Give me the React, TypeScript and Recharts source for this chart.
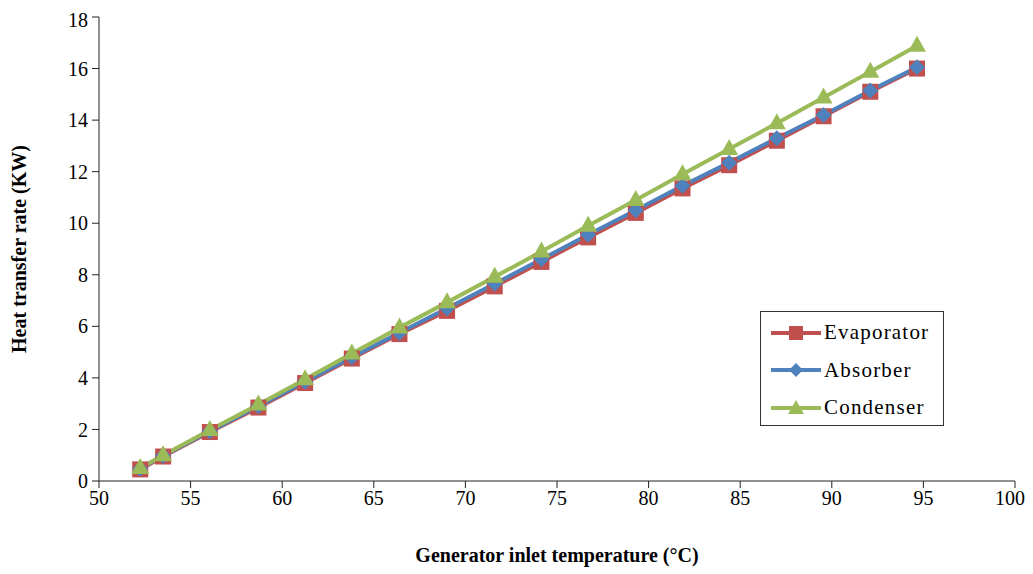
import {
  LineChart,
  Line,
  XAxis,
  YAxis,
} from 'recharts';

const temps = [52.25, 53.5, 56.05, 58.7, 61.25, 63.8, 66.4, 69.0, 71.6, 74.15, 76.7, 79.3, 81.85, 84.4, 87.0, 89.55, 92.1, 94.65];
const evaporator = [0.45, 0.95, 1.9, 2.85, 3.8, 4.75, 5.7, 6.6, 7.55, 8.5, 9.45, 10.4, 11.35, 12.25, 13.2, 14.15, 15.1, 16.0];
const absorber = [0.48, 0.98, 1.93, 2.9, 3.85, 4.8, 5.75, 6.7, 7.65, 8.6, 9.55, 10.5, 11.45, 12.35, 13.3, 14.2, 15.15, 16.05];
const condenser = [0.5, 1.0, 1.98, 2.97, 3.95, 4.95, 5.95, 6.93, 7.92, 8.9, 9.9, 10.9, 11.9, 12.88, 13.88, 14.88, 15.88, 16.88];
const xTicks = [50, 55, 60, 65, 70, 75, 80, 85, 90, 95, 100];
const yTicks = [0, 2, 4, 6, 8, 10, 12, 14, 16, 18];

const data = temps.map((t, i) => ({
  t,
  evaporator: evaporator[i],
  absorber: absorber[i],
  condenser: condenser[i],
}));

const RED = '#C0504D';
const BLUE = '#4F81BD';
const GREEN = '#9BBB59';
const FONT = "'Times New Roman', 'Liberation Serif', serif";

const Square = (props: any) => {
  const { cx, cy } = props;
  if (cx == null || cy == null) return null;
  return <rect x={cx - 8} y={cy - 8} width={16} height={16} fill={RED} />;
};

const Diamond = (props: any) => {
  const { cx, cy } = props;
  if (cx == null || cy == null) return null;
  return (
    <polygon
      points={`${cx},${cy - 8} ${cx + 8},${cy} ${cx},${cy + 8} ${cx - 8},${cy}`}
      fill={BLUE}
    />
  );
};

const Triangle = (props: any) => {
  const { cx, cy } = props;
  if (cx == null || cy == null) return null;
  return (
    <polygon
      points={`${cx},${cy - 10} ${cx + 9},${cy + 6} ${cx - 9},${cy + 6}`}
      fill={GREEN}
    />
  );
};

const legendItems = [
  { name: 'Evaporator', color: RED, shape: 'square' },
  { name: 'Absorber', color: BLUE, shape: 'diamond' },
  { name: 'Condenser', color: GREEN, shape: 'triangle' },
];

const LegendBox = () => (
  <div
    style={{
      position: 'absolute',
      left: 752,
      top: 303,
      border: '1px solid #333',
      background: '#fff',
      width: 184,
      height: 115,
      boxSizing: 'border-box',
      padding: '2px 0 0 9px',
      fontFamily: FONT,
      fontSize: 21,
      letterSpacing: 1.2,
      color: '#000',
    }}
  >
    {legendItems.map((it) => (
      <div key={it.name} style={{ display: 'flex', alignItems: 'center', height: 37.5, whiteSpace: 'nowrap' }}>
        <svg width={52} height={20} style={{ marginRight: 2, flexShrink: 0 }}>
          <line x1={1} y1={10} x2={51} y2={10} stroke={it.color} strokeWidth={4} />
          {it.shape === 'square' && <rect x={19} y={3} width={14} height={14} fill={it.color} />}
          {it.shape === 'diamond' && <polygon points="26,3 33,10 26,17 19,10" fill={it.color} />}
          {it.shape === 'triangle' && <polygon points="26,2 34,16 18,16" fill={it.color} />}
        </svg>
        <span>{it.name}</span>
      </div>
    ))}
  </div>
);

export default function App() {
  return (
    <div style={{ position: 'relative', width: 1017, height: 560, background: '#fff', fontFamily: FONT }}>
      <LineChart
        width={1017}
        height={560}
        data={data}
        margin={{ top: 9, right: 10, left: 31, bottom: 0 }}
        style={{ fontFamily: FONT }}
      >
        <XAxis
          dataKey="t"
          type="number"
          domain={[50, 100]}
          ticks={xTicks}
          allowDecimals={false}
          stroke="#222"
          tickSize={7}
          tick={{ fill: '#000', fontSize: 20, fontFamily: FONT }}
          tickMargin={3}
          height={87}
          label={{
            value: 'Generator inlet temperature (°C)',
            position: 'insideBottom',
            offset: 6,
            style: { fill: '#000', fontSize: 20, fontWeight: 'bold', fontFamily: FONT },
          }}
        />
        <YAxis
          type="number"
          domain={[0, 18]}
          ticks={yTicks}
          stroke="#222"
          tickSize={7}
          tick={{ fill: '#000', fontSize: 20, fontFamily: FONT }}
          tickMargin={4}
          width={60}
          label={{
            value: 'Heat transfer rate (KW)',
            angle: -90,
            position: 'insideLeft',
            offset: -20,
            style: { fill: '#000', fontSize: 20, fontWeight: 'bold', fontFamily: FONT, textAnchor: 'middle' },
          }}
        />
        <Line
          dataKey="evaporator"
          name="Evaporator"
          stroke={RED}
          strokeWidth={4}
          dot={<Square />}
          isAnimationActive={false}
        />
        <Line
          dataKey="absorber"
          name="Absorber"
          stroke={BLUE}
          strokeWidth={4}
          dot={<Diamond />}
          isAnimationActive={false}
        />
        <Line
          dataKey="condenser"
          name="Condenser"
          stroke={GREEN}
          strokeWidth={4}
          dot={<Triangle />}
          isAnimationActive={false}
        />
      </LineChart>
      <LegendBox />
    </div>
  );
}
